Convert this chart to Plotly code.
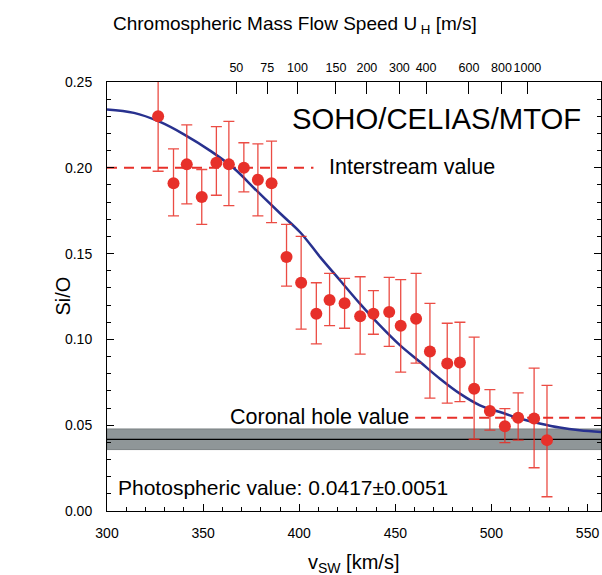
import plotly.graph_objects as go

# Si/O measurements (SOHO/CELIAS/MTOF) vs solar wind speed
v_sw = [326.6, 334.6, 341.5, 349.3, 356.9, 363.4, 371.2, 378.5, 385.6, 393.4,
        401.0, 408.9, 415.8, 423.6, 431.7, 438.6, 446.8, 452.8, 460.8, 468.0,
        477.0, 483.6, 491.0, 499.2, 507.0, 513.9, 522.2, 528.9]
si_o = [0.230, 0.191, 0.202, 0.183, 0.203, 0.202, 0.200, 0.193, 0.191, 0.148,
        0.133, 0.115, 0.123, 0.121, 0.1135, 0.115, 0.116, 0.108, 0.112, 0.093,
        0.086, 0.0866, 0.0713, 0.0583, 0.0494, 0.0544, 0.0539, 0.0413]
# upper / lower ends of the error bars
err_top = [0.262, 0.211, 0.225, 0.199, 0.224, 0.227, 0.2146, 0.214, 0.2155, 0.167,
           0.160, 0.133, 0.1385, 0.1356, 0.1365, 0.1284, 0.1361, 0.1348, 0.1385, 0.121,
           0.1094, 0.110, 0.1013, 0.0707, 0.0597, 0.0688, 0.0833, 0.0732]
err_bot = [0.198, 0.172, 0.179, 0.167, 0.184, 0.178, 0.186, 0.172, 0.168, 0.131,
           0.106, 0.0974, 0.108, 0.1065, 0.0914, 0.103, 0.0959, 0.0809, 0.0862, 0.0658,
           0.0629, 0.0637, 0.0418, 0.0471, 0.0399, 0.0413, 0.0252, 0.0083]

# model curve
fit_v = [300, 314, 327, 340, 354, 366, 378, 390, 400.6, 411, 421.4, 431.7, 442.1,
         452.5, 462.9, 473.2, 483.6, 494, 504.4, 514.7, 525.1, 535.5, 545.9, 558]
fit_y = [0.234, 0.232, 0.227, 0.2195, 0.2097, 0.1997, 0.1865, 0.1735, 0.1623, 0.1478,
         0.1342, 0.1207, 0.108, 0.0965, 0.0868, 0.0771, 0.0684, 0.0616, 0.0577, 0.0539,
         0.051, 0.0486, 0.047, 0.0459]

interstream_v = [300, 407.4]
interstream_val = 0.20
coronal_v = [460.3, 560]
coronal_val = 0.0543
photo_val = 0.0417
photo_lo, photo_hi = 0.0358, 0.0478

# top axis: chromospheric mass flow speed, placed at matching v_sw
uh_pos = [367.3, 383.4, 399.1, 419.1, 435.2, 452.1, 466.0, 488.3, 505.2, 518.7]
uh_labels = ['50', '75', '100', '150', '200', '300', '400', '600', '800', '1000']

FONT = 'Liberation Sans, Arial, sans-serif'
RED = '#e7302a'

err_plus = [t - v for t, v in zip(err_top, si_o)]
err_minus = [v - b for v, b in zip(si_o, err_bot)]

fig = go.Figure()

fig.add_shape(type='rect', xref='x', yref='y', x0=300, x1=560, y0=photo_lo, y1=photo_hi,
              fillcolor='#8f9698', line=dict(color='#7b8284', width=1), layer='below')
fig.add_trace(go.Scatter(x=[300, 560], y=[photo_val, photo_val], mode='lines',
                         line=dict(color='black', width=1.2), showlegend=False))

fig.add_trace(go.Scatter(x=interstream_v, y=[interstream_val] * 2, mode='lines',
                         line=dict(color=RED, width=2, dash='10px,7px'), showlegend=False))
fig.add_trace(go.Scatter(x=coronal_v, y=[coronal_val] * 2, mode='lines',
                         line=dict(color=RED, width=2, dash='10px,6px'), showlegend=False))

fig.add_trace(go.Scatter(x=fit_v, y=fit_y, mode='lines', line_shape='spline',
                         line=dict(color='#28318f', width=2.5), showlegend=False))

fig.add_trace(go.Scatter(
    x=v_sw, y=si_o, mode='markers',
    marker=dict(color=RED, size=12),
    error_y=dict(type='data', symmetric=False, array=err_plus, arrayminus=err_minus,
                 color='rgba(232,45,35,0.85)', thickness=1.3, width=5.5),
    showlegend=False))

# dummy trace so the top axis is drawn
fig.add_trace(go.Scatter(x=[300], y=[None], xaxis='x2', showlegend=False, hoverinfo='skip'))

fig.update_layout(
    width=602, height=575,
    margin=dict(l=107, r=1, t=82, b=64),
    plot_bgcolor='white', paper_bgcolor='white',
    font=dict(family=FONT, size=14, color='black'),
    xaxis=dict(range=[300, 557], dtick=50, ticks='inside', ticklen=7, tickwidth=1,
               tickcolor='black', showline=True, linecolor='black', linewidth=1,
               mirror=True, showgrid=False, zeroline=False, ticklabelstandoff=9,
               minor=dict(dtick=10, ticks='inside', ticklen=4, tickcolor='black')),
    xaxis2=dict(range=[300, 557], overlaying='x', side='top', anchor='y',
                tickvals=uh_pos, ticktext=uh_labels, tickangle=0, ticks='inside',
                ticklen=12, tickcolor='black', showline=True, linecolor='black',
                showgrid=False, zeroline=False, ticklabelstandoff=4,
                tickfont=dict(size=12.5)),
    yaxis=dict(range=[0, 0.25], dtick=0.05, tickformat='.2f', ticks='inside', ticklen=7,
               tickcolor='black', showline=True, linecolor='black', linewidth=1,
               mirror='ticks', showgrid=False, zeroline=False, ticklabelstandoff=11,
               minor=dict(dtick=0.01, ticks='inside', ticklen=4, tickcolor='black')),
    annotations=[
        dict(text='SOHO/CELIAS/MTOF', x=547.5, y=0.229, xref='x', yref='y',
             xanchor='right', yanchor='middle', showarrow=False, font=dict(size=29.3)),
        dict(text='Interstream value', x=414.6, y=0.2006, xref='x', yref='y',
             xanchor='left', yanchor='middle', showarrow=False, font=dict(size=21.5)),
        dict(text='Coronal hole value', x=458.3, y=0.0547, xref='x', yref='y',
             xanchor='right', yanchor='middle', showarrow=False, font=dict(size=21.5)),
        dict(text='Photospheric value: 0.0417\u00b10.0051', x=304.5, y=0.0137, xref='x',
             yref='y', xanchor='left', yanchor='middle', showarrow=False,
             font=dict(size=21)),
        dict(text='Chromospheric Mass Flow Speed U<sub> H</sub> [m/s]', x=0.38, y=1.133,
             xref='paper', yref='paper', xanchor='center', yanchor='middle',
             showarrow=False, font=dict(size=19)),
        dict(text='v<sub>SW</sub> [km/s]', x=0.498, y=-0.123, xref='paper', yref='paper',
             xanchor='center', yanchor='middle', showarrow=False, font=dict(size=20)),
        dict(text='Si/O', x=-0.091, y=0.5, xref='paper', yref='paper', textangle=-90,
             xanchor='center', yanchor='middle', showarrow=False, font=dict(size=20)),
    ],
)

# drop the default body margin so the figure sits at the window's corner
fig.write_html('out.html', config={'displayModeBar': False},
               post_script="document.body.style.margin='0';")
